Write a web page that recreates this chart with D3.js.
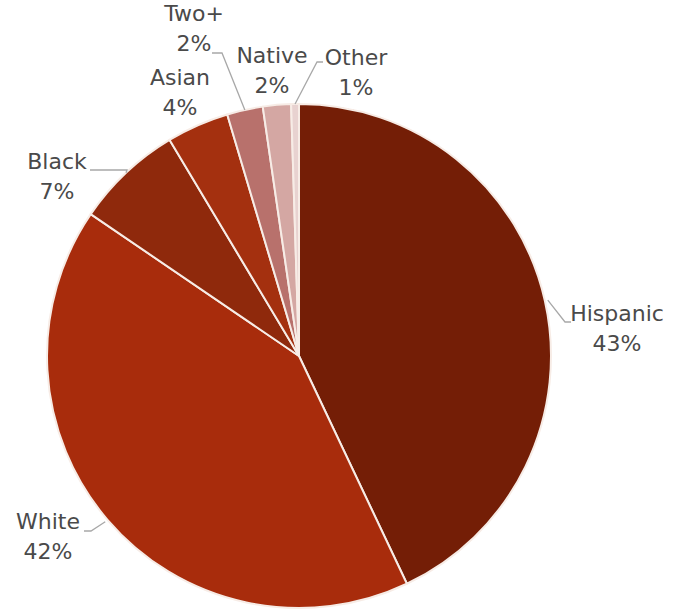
<!DOCTYPE html>
<html><head><meta charset="utf-8">
<script src="https://cdn.jsdelivr.net/npm/d3@7"></script>
<style>body{margin:0;background:#fff;} svg{display:block;}</style>
</head><body>
<svg id="c" width="685" height="610"></svg>
<script>
const categories = ["Hispanic","White","Black","Asian","Two+","Native","Other"];
const values = [43.0, 41.6, 6.9, 4.0, 2.3, 1.8, 0.5];
const labels = ["43%","42%","7%","4%","2%","2%","1%"];
const colors = ["#741e06","#a82c0c","#8f290c","#a4300f","#b8716c","#d4a7a3","#e8d2d0"];

const W=685,H=610, cx=299, cy=356, R=252;
const svg=d3.select("#c");
const g=svg.append("g").attr("transform",`translate(${cx},${cy})`);
const data=categories.map((c,i)=>({cat:c,v:values[i],lab:labels[i],col:colors[i]}));
const pie=d3.pie().sort(null).value(d=>d.v);
const arcs=pie(data);
const arc=d3.arc().innerRadius(0).outerRadius(R);
g.selectAll("path.s").data(arcs).join("path").attr("class","s")
 .attr("d",arc).attr("fill",d=>d.data.col).attr("stroke","#f7ece6").attr("stroke-width",2).attr("stroke-linejoin","round");

const lp = {
 "Hispanic":{x:617,y:313, line:[[3,"out"],[565,322],[571,322]]},
 "White":{x:48,y:521, line:[[3,"out"],[91,531],[84,531]]},
 "Black":{x:57,y:161, line:[[0,"out"],[127,170],[90,170]]},
 "Asian":{x:180,y:77, line:null},
 "Two+":{x:194,y:13, line:[[0,"out"],[222,53],[212,53]]},
 "Native":{x:272,y:55, line:null},
 "Other":{x:356,y:57, line:[[0,"out"],[317,62],[323,62]]}
};
const lineG=svg.append("g");
arcs.forEach(a=>{
  const p=lp[a.data.cat]; if(!p.line) return;
  const mid=(a.startAngle+a.endAngle)/2;
  const r=R+p.line[0][0];
  const sx=cx+Math.sin(mid)*r, sy=cy-Math.cos(mid)*r;
  const pts=[[sx,sy],p.line[1],p.line[2]];
  lineG.append("path").attr("d",d3.line()(pts)).attr("fill","none").attr("stroke","#a8a8a8").attr("stroke-width",1.3);
});
const tg=svg.append("g").attr("font-family","'DejaVu Sans', Verdana, sans-serif").attr("font-size",22).attr("fill","#4a4a4a").attr("text-anchor","middle");
arcs.forEach(a=>{
  const p=lp[a.data.cat];
  const t=tg.append("text").attr("x",p.x).attr("y",p.y).attr("dominant-baseline","central");
  t.append("tspan").attr("x",p.x).attr("dy",0).text(a.data.cat);
  t.append("tspan").attr("x",p.x).attr("dy",30).text(a.data.lab);
});
</script>
</body></html>
